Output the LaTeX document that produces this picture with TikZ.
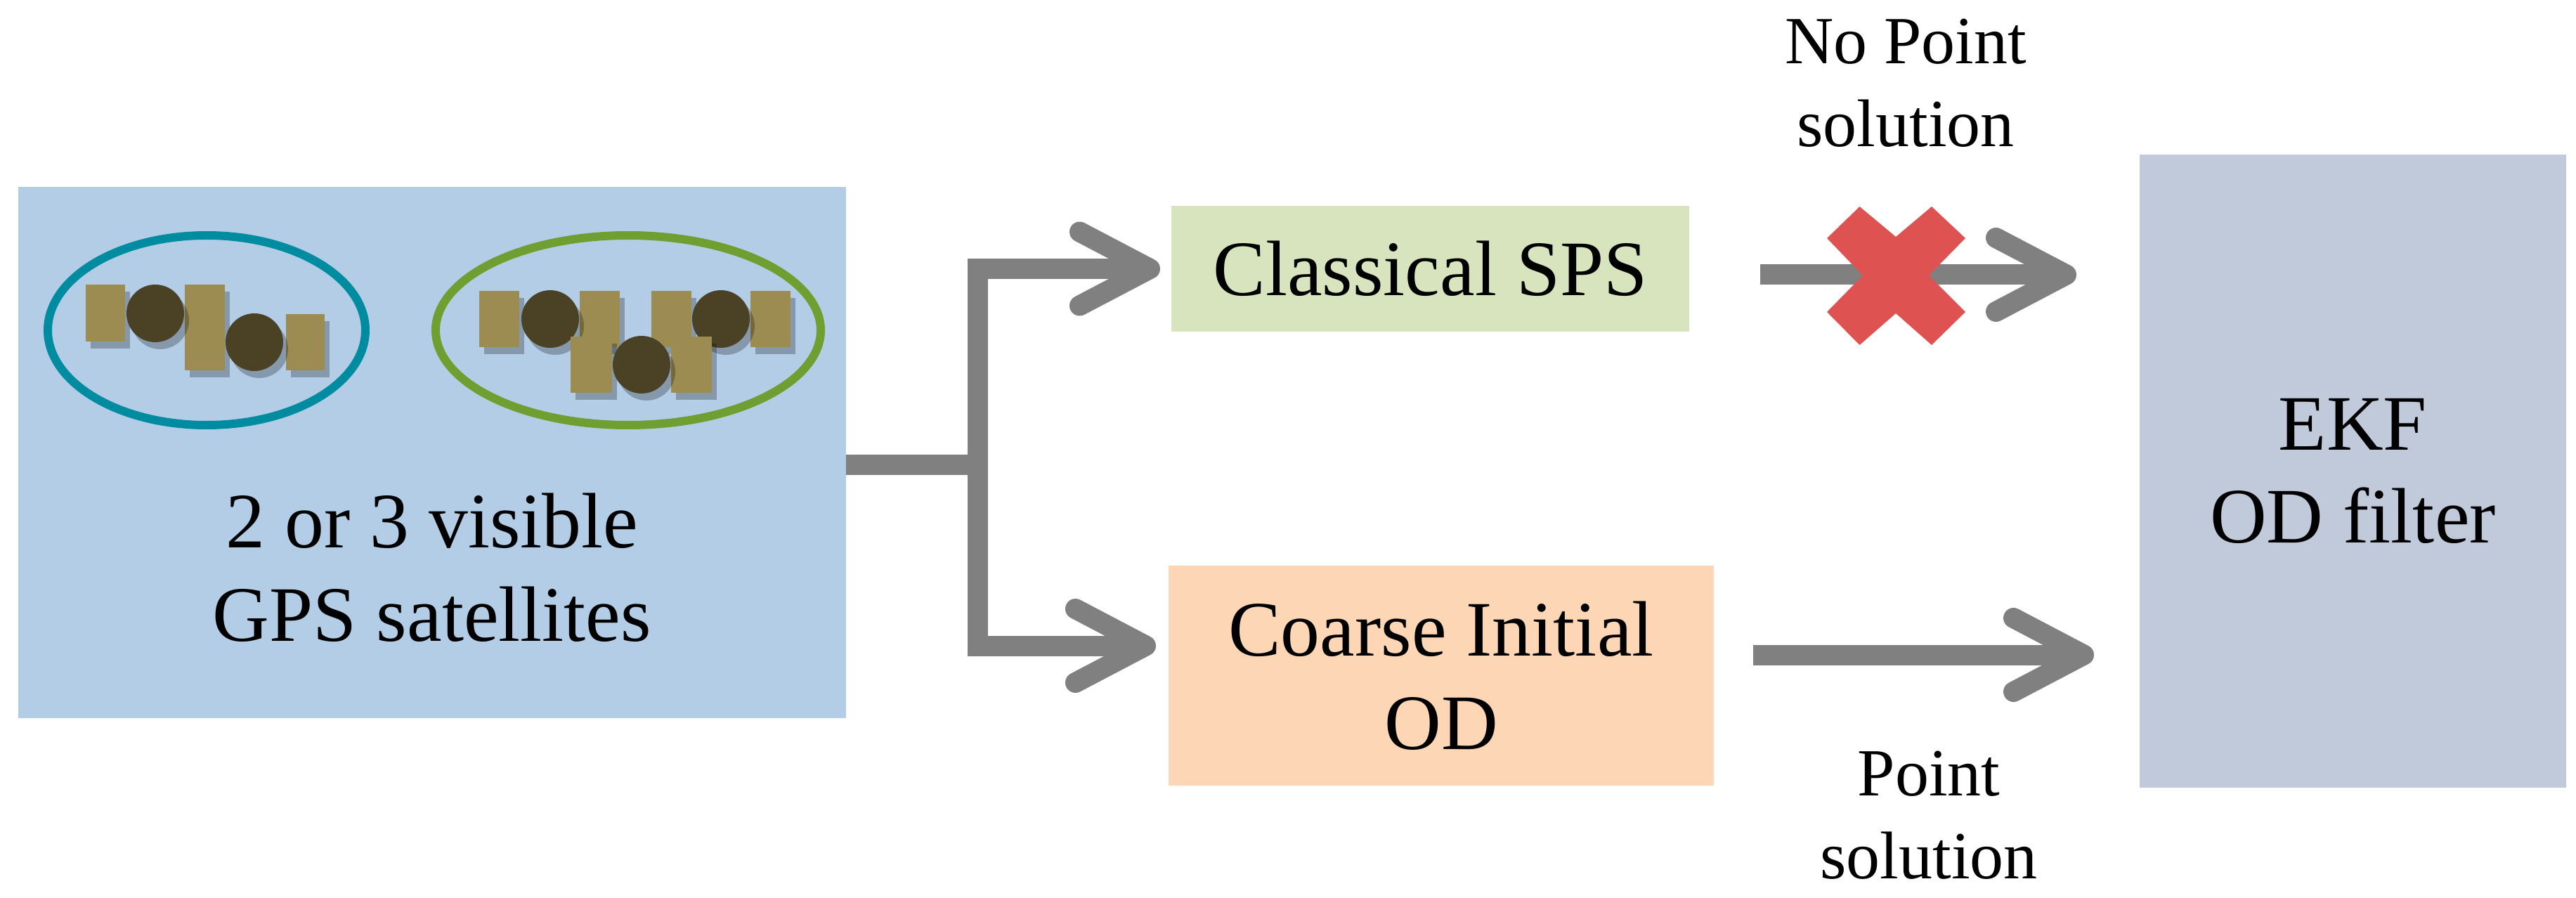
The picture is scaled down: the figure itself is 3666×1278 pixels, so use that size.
\documentclass[tikz,border=0pt]{standalone}
\usepackage{fontspec}
\setmainfont{Liberation Serif}
\usetikzlibrary{arrows.meta}
\usetikzlibrary{shadows}
\definecolor{gpsblue}{RGB}{180,205,230}
\definecolor{spsgreen}{RGB}{215,228,190}
\definecolor{coarseorange}{RGB}{252,214,181}
\definecolor{ekfgray}{RGB}{193,202,219}
\definecolor{ringteal}{RGB}{0,140,160}
\definecolor{ringgreen}{RGB}{112,158,48}
\definecolor{panelkhaki}{RGB}{156,140,82}
\definecolor{bodybrown}{RGB}{75,66,38}
\definecolor{arrowgray}{RGB}{128,128,128}
\definecolor{crossred}{RGB}{222,82,82}
\begin{document}
\begin{tikzpicture}[x=0.1mm,y=-0.1mm,line join=miter,
  block/.style={rectangle,inner sep=0pt,outer sep=0pt,align=center,font=\fontsize{31.8pt}{37.8pt}\selectfont},
  note/.style={inner sep=0pt,align=center,font=\fontsize{27.3pt}{33.6pt}\selectfont},
  flow/.style={draw=arrowgray,line width=2.9mm,arrows={-{Straight Barb[length=10mm,width=10.5mm,round]}}},
  ring/.style={line width=1.2mm},
  satshadow/.style={drop shadow={shadow xshift=0.7mm,shadow yshift=-1mm,opacity=0.25,fill=black}},
  panel/.style={fill=panelkhaki,satshadow},
  body/.style={fill=bodybrown,satshadow}]
\useasboundingbox (0,0) rectangle (3666,1278);
\node[block,fill=gpsblue,minimum width=117.8mm,minimum height=75.6mm] (gps) at (615,644) {};
\node[block,fill=spsgreen,minimum width=73.7mm,minimum height=17.9mm] (sps) at (2035.5,382.5) {Classical SPS};
\node[block,fill=coarseorange,minimum width=77.6mm,minimum height=31.3mm] (coarse) at (2051,961.5) {Coarse Initial\\OD};
\node[block,fill=ekfgray,minimum width=60.7mm,minimum height=90.1mm] (ekf) at (3348.5,670.5) {EKF\\OD filter};
\node[block] (gpslabel) at (615,808) {2 or 3 visible\\GPS satellites};
\node[note] (nopoint) at (2712,118) {No Point\\solution};
\node[note] (point) at (2745,1160) {Point\\solution};
\draw[ring,draw=ringteal] (294,470) ellipse [x radius=226,y radius=135];
\draw[ring,draw=ringgreen] (894,470) ellipse [x radius=274,y radius=135];
\foreach \xa/\ya/\xb/\yb in {122/405/178/486, 263/405/320/527, 407/447/462/527}
  \fill[panel] (\xa,\ya) rectangle (\xb,\yb);
\fill[body] (221,446) circle (41);
\fill[body] (362,487) circle (41);
\foreach \xa in {682,825,927,1068}
  \fill[panel] (\xa,414) rectangle ++(57,80);
\fill[body] (783,454) circle (41);
\fill[body] (1026,454) circle (41);
\fill[panel] (812,479) rectangle (871,559);
\fill[panel] (955,479) rectangle (1013,559);
\fill[body] (913,519) circle (41);
\coordinate (split) at (1391,661);
\coordinate (lowin) at (1645,919);
\coordinate (cross) at (2698,391);
\coordinate (pointpath) at (2745,932);
\draw[flow,arrows=-] (gps.east |- split) -- (split);
\draw[flow,shorten >=1.6mm] (split) |- (sps.west);
\draw[flow] (split) |- (lowin);
\draw[flow,shorten <=10.1mm,shorten >=9mm] (sps.east |- cross) -- (ekf.west |- cross);
\fill[crossred] (2646.5,294) -- (2698,337) -- (2749,294) -- (2797,339) -- (2745,392) -- (2797,444)
  -- (2749,491) -- (2698,446) -- (2646.5,491) -- (2600,444) -- (2651,392) -- (2600,339) -- cycle;
\draw[flow,shorten <=5.6mm,shorten >=6.5mm] (coarse.east |- pointpath) -- (ekf.west |- pointpath);
\end{tikzpicture}
\end{document}
